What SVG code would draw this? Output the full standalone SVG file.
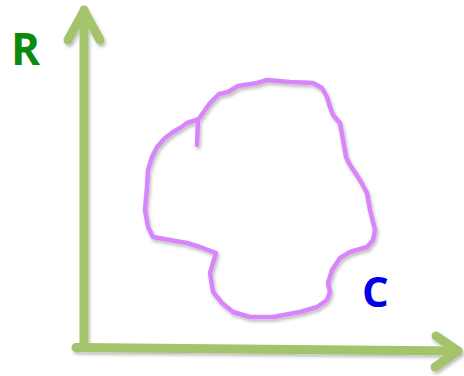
<svg xmlns="http://www.w3.org/2000/svg" width="464" height="376" viewBox="0 0 464 376">
  <style>
    .axis { fill: none; stroke: #A3C46B; stroke-width: 9; stroke-linecap: round; stroke-linejoin: round; }
    .curve { fill: none; stroke: #D884FA; stroke-width: 4.5; stroke-linecap: round; stroke-linejoin: round; }
    .lbl { font-family: "Open Sans", "Liberation Sans", sans-serif; font-weight: bold; }
  </style>
  <defs>
    <filter id="sh" x="-10%" y="-10%" width="130%" height="130%">
      <feDropShadow dx="1.5" dy="2.5" stdDeviation="1.8" flood-color="#000" flood-opacity="0.25"/>
    </filter>
  </defs>
  <rect width="464" height="376" fill="#ffffff"/>
  <g id="axes" filter="url(#sh)">
    <path class="axis" d="M84 346 L84 10" stroke-linecap="butt"/>
    <path class="axis" d="M68 40 L84 11 L100 40"/>
    <path class="axis" d="M76 347.5 L458 351" stroke-linecap="butt"/>
    <path class="axis" d="M436 336 L458 351 L435 367"/>
  </g>
  <g id="curve" filter="url(#sh)">
    <path class="curve" d="M197 145 L198 120 L210 103 L219 94 L228 92 L238 86 L257 83 L267 80 L290 82 L313 83 L322 88 L327 97 L330 107 L333 115 L340 123 L343 140 L346 157 L350 165 L360 180 L367 193 L370 210 L375 230 L373 240 L367 247 L350 252 L340 258 L332 270 L328 283 L330 292 L327 300 L317 307 L300 312 L273 317 L250 317 L233 312 L222 303 L213 292 L210 273 L213 263 L216 253 L200 247 L187 243 L170 240 L153 237 L148 227 L145 210 L147 187 L148 170 L152 157 L157 147 L165 138 L173 132 L180 128 L187 123 L193 121 L198 119"/>
  </g>
  <g id="label-R">
    <text class="lbl" x="11" y="65" font-size="44" fill="#0B8A0B">R</text>
  </g>
  <g id="label-C">
    <text class="lbl" x="362" y="307" font-size="42" fill="#0000E6">C</text>
  </g>
</svg>
